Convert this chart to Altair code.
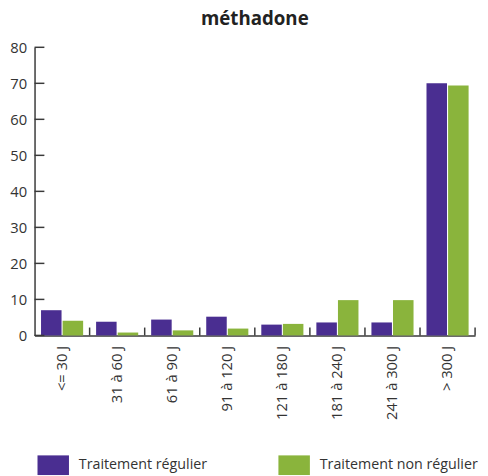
import altair as alt
import pandas as pd

categories = ["<= 30 J", "31 à 60 J", "61 à 90 J", "91 à 120 J",
              "121 à 180 J", "181 à 240 J", "241 à 300 J", "> 300 J"]
series = ["Traitement régulier", "Traitement non régulier"]
regulier = [7.0, 3.8, 4.4, 5.2, 3.0, 3.6, 3.6, 70.0]
non_regulier = [4.1, 0.8, 1.4, 1.9, 3.2, 9.8, 9.8, 69.4]
y_ticks = [0, 10, 20, 30, 40, 50, 60, 70, 80]
colors = ["#4a2e91", "#8ab43c"]

rows = []
for c, a, b in zip(categories, regulier, non_regulier):
    rows.append({"cat": c, "serie": series[0], "val": a})
    rows.append({"cat": c, "serie": series[1], "val": b})
df = pd.DataFrame(rows)
df_cat = pd.DataFrame({"cat": categories})
df_y = pd.DataFrame({"v": y_ticks})

W, H = 448, 293
FONT = "Open Sans"
AX = "#3a3a3a"

xscale = alt.Scale(domain=categories, paddingInner=0, paddingOuter=0)
yscale = alt.Scale(domain=[0, 80])

x_axis = alt.Axis(title=None, labelAngle=270, ticks=False, labelPadding=10,
                  labelFontSize=15, labelColor="#333", labelFont=FONT,
                  labelOverlap=False, domainColor=AX, domainWidth=1.5)
y_axis = alt.Axis(title=None, values=y_ticks, ticks=False, grid=False, labelPadding=8,
                  labelFontSize=15, labelColor="#333", labelFont=FONT,
                  labelOverlap=False, labelFlush=False,
                  domainColor=AX, domainWidth=1.5)

bars = alt.Chart(df).mark_bar().encode(
    x=alt.X("cat:N", scale=xscale, sort=categories, axis=x_axis),
    xOffset=alt.XOffset("serie:N", sort=series,
                        scale=alt.Scale(domain=series, paddingInner=0.05, paddingOuter=0.3)),
    y=alt.Y("val:Q", scale=yscale, axis=y_axis),
    color=alt.Color("serie:N", sort=series,
                    scale=alt.Scale(domain=series, range=colors),
                    legend=alt.Legend(title=None, orient="none", legendX=3, legendY=409,
                                      direction="horizontal",
                                      symbolType="M-1,-0.625H1V0.625H-1Z",
                                      symbolSize=1024, symbolStrokeWidth=0,
                                      symbolOpacity=1, labelLimit=300,
                                      labelFontSize=14.5, labelColor="#333", labelFont=FONT,
                                      labelOffset=10, columnPadding=72)),
)

xt = alt.Chart(df_cat).mark_rule(color=AX, strokeWidth=1.5).encode(
    x=alt.X("cat:N", scale=xscale, sort=categories, bandPosition=1, axis=x_axis),
    y=alt.value(H - 8), y2=alt.value(H),
)

yt = alt.Chart(df_y).mark_rule(color=AX, strokeWidth=1.5).encode(
    y=alt.Y("v:Q", scale=yscale, axis=y_axis),
    x=alt.value(0), x2=alt.value(10),
)

chart = alt.layer(bars, xt, yt).properties(
    width=W, height=H,
    title=alt.TitleParams("méthadone", font=FONT, fontSize=19, fontWeight="bold",
                          color="#222", anchor="middle", offset=12),
    autosize=alt.AutoSizeParams(type="none"),
    padding={"left": 27, "top": 36, "right": 5, "bottom": 139},
).configure_view(stroke=None)

chart.save("out.html", embed_options={"renderer": "svg", "actions": False})
